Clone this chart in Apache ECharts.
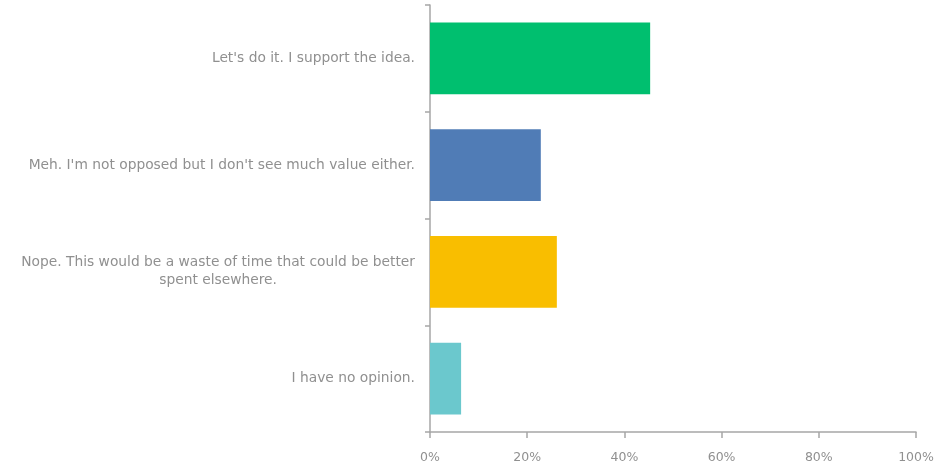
<!DOCTYPE html>
<html>
<head>
<meta charset="utf-8">
<script src="https://cdn.jsdelivr.net/npm/echarts@6/dist/echarts.min.js"></script>
<style>
  html, body { margin: 0; padding: 0; background: #fff; }
  #chart { width: 937px; height: 465px; }
</style>
</head>
<body>
<div id="chart"></div>
<script>
// answers, top to bottom
var answers = [
  "Let's do it. I support the idea.",
  "Meh. I'm not opposed but I don't see much value either.",
  "Nope. This would be a waste of time that could be better\nspent elsewhere.",
  "I have no opinion."
];
var shares = [45.3, 22.8, 26.1, 6.4];
var barColors = ['#00BF6F', '#507CB6', '#F9BE00', '#6BC8CD'];
var pctTicks = [0, 20, 40, 60, 80, 100];

var chart = echarts.init(document.getElementById('chart'));

var option = {
  animation: false,
  grid: { left: 430, right: 21, top: 5, bottom: 33 },
  xAxis: {
    type: 'value',
    min: pctTicks[0],
    max: pctTicks[pctTicks.length - 1],
    interval: pctTicks[1] - pctTicks[0],
    splitLine: { show: false },
    axisLine: { show: true, lineStyle: { color: '#a6a6a6', width: 1.5 } },
    axisTick: { show: true, length: 6, lineStyle: { color: '#a6a6a6', width: 1.5 } },
    axisLabel: {
      color: '#909090',
      fontFamily: 'DejaVu Sans',
      fontSize: 12.5,
      margin: 19,
      formatter: function (v) { return v + '%'; }
    }
  },
  yAxis: {
    type: 'category',
    inverse: true,
    data: answers,
    axisLine: { show: true, lineStyle: { color: '#a6a6a6', width: 1.5 } },
    axisTick: { show: true, length: 5, lineStyle: { color: '#a6a6a6', width: 1.5 } },
    axisLabel: {
      margin: 15,
      formatter: function (v) {
        // centre each line of a wrapped answer
        return v.split('\n').map(function (s) { return '{c|' + s + '}'; }).join('\n');
      },
      rich: {
        c: {
          align: 'center',
          color: '#909090',
          fontFamily: 'DejaVu Sans',
          fontSize: 13.8,
          lineHeight: 18
        }
      }
    }
  },
  series: [{
    type: 'bar',
    barCategoryGap: '33%',
    data: shares.map(function (v, i) {
      return { value: v, itemStyle: { color: barColors[i] } };
    })
  }]
};

chart.setOption(option);
</script>
</body>
</html>
